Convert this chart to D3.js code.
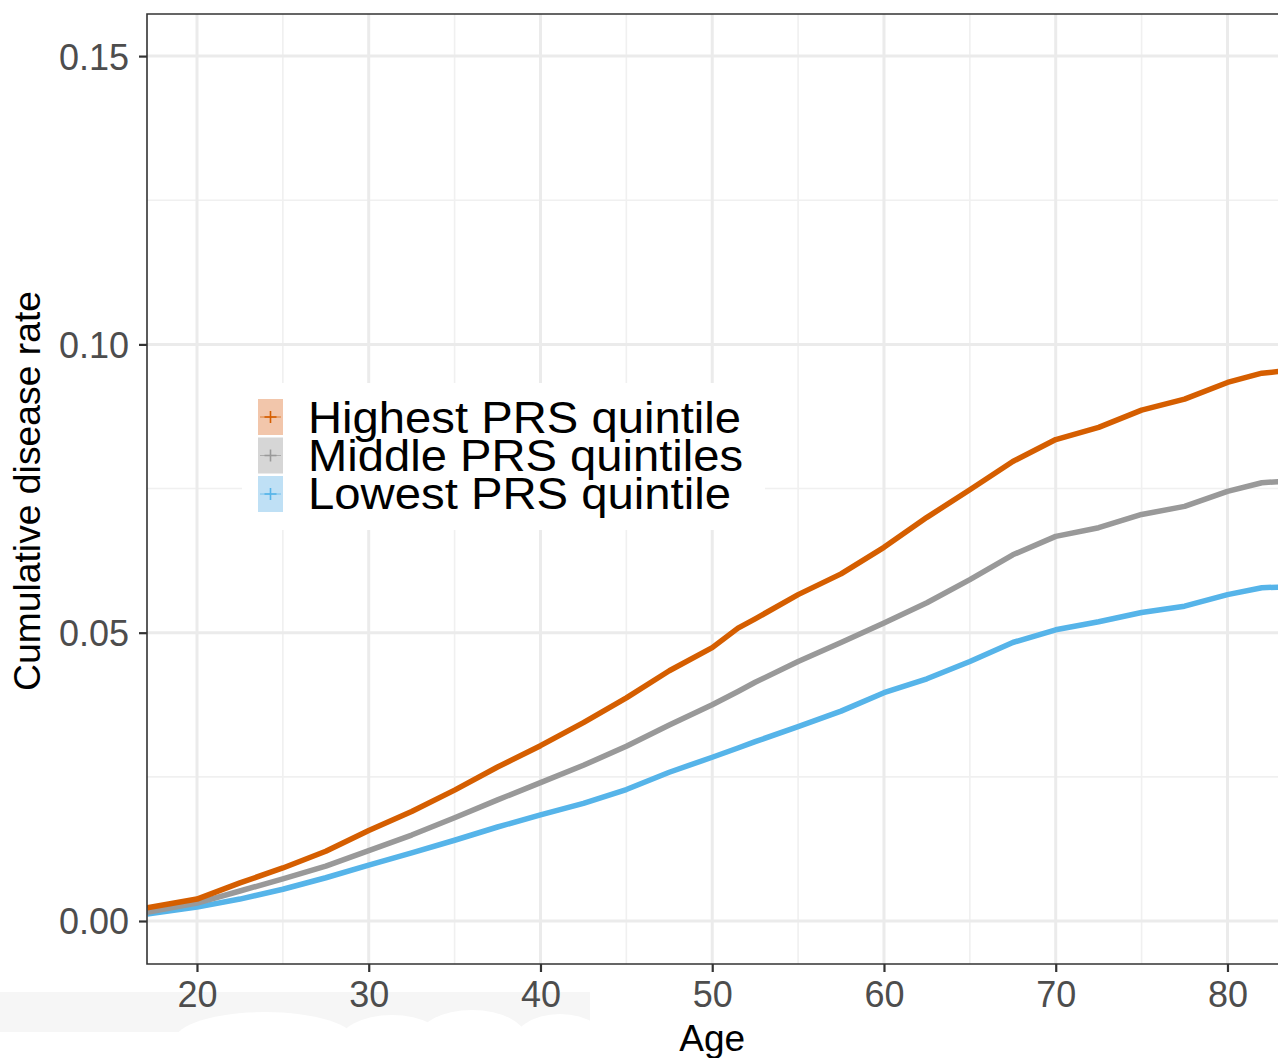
<!DOCTYPE html>
<html>
<head>
<meta charset="utf-8">
<script src="https://cdn.jsdelivr.net/npm/d3@7"></script>
<style>
  html, body { margin: 0; padding: 0; background: #fff; }
  svg { display: block; font-family: "Liberation Sans", Arial, Helvetica, sans-serif; }
</style>
</head>
<body>
<svg id="chart" width="1278" height="1058"></svg>
<script>
// ---- data ----
const ages = [17.1, 20, 22.5, 25, 27.5, 30, 32.5, 35, 37.5, 40, 42.5, 45, 47.5, 50, 51.5, 52.5, 55, 57.5, 60, 62.5, 65, 67.5, 70, 72.5, 75, 77.5, 80, 82, 83];
const highest = [0.0023, 0.0038, 0.0066, 0.0092, 0.0121, 0.0157, 0.0190, 0.0227, 0.0267, 0.0304, 0.0344, 0.0387, 0.0434, 0.0474, 0.0508, 0.0524, 0.0566, 0.0602, 0.0648, 0.0700, 0.0748, 0.0797, 0.0835, 0.0856, 0.0886, 0.0905, 0.0934, 0.0950, 0.0953];
const middle  = [0.0015, 0.0031, 0.0052, 0.0073, 0.0095, 0.0122, 0.0149, 0.0179, 0.0210, 0.0240, 0.0270, 0.0303, 0.0340, 0.0375, 0.0398, 0.0414, 0.0450, 0.0483, 0.0517, 0.0552, 0.0592, 0.0635, 0.0667, 0.0682, 0.0705, 0.0719, 0.0745, 0.0760, 0.0762];
const lowest  = [0.0012, 0.0024, 0.0038, 0.0055, 0.0075, 0.0097, 0.0118, 0.0140, 0.0163, 0.0184, 0.0204, 0.0228, 0.0258, 0.0284, 0.0300, 0.0311, 0.0337, 0.0364, 0.0396, 0.0420, 0.0450, 0.0483, 0.0505, 0.0519, 0.0535, 0.0546, 0.0566, 0.0578, 0.0579];
const seriesNames = ["Highest PRS quintile", "Middle PRS quintiles", "Lowest PRS quintile"];
const xTicks = [20, 30, 40, 50, 60, 70, 80];
const xMinor = [25, 35, 45, 55, 65, 75];
const yTicks = [0, 0.05, 0.10, 0.15];
const yMinor = [0.025, 0.075, 0.125];
const xTitle = "Age";
const yTitle = "Cumulative disease rate";

// ---- layout ----
const svg = d3.select("#chart");
const P = { left: 147, top: 14, right: 1279, bottom: 964 };
const x = d3.scaleLinear().domain([17.09, 83.0]).range([P.left, P.right]);
const y = d3.scaleLinear().domain([-0.00746, 0.1573]).range([P.bottom, P.top]);

const colors = ["#D55E00", "#999999", "#56B4E9"];
const keyFills = ["#f2c6ab", "#d6d6d6", "#bfe0f5"];

svg.append("defs").append("clipPath").attr("id", "panel")
  .append("rect").attr("x", P.left).attr("y", P.top)
  .attr("width", P.right - P.left).attr("height", P.bottom - P.top);

// faint smudge under x labels (as in the reference), drawn first
const smudge = svg.append("g");
smudge.append("rect").attr("x", 0).attr("y", 992).attr("width", 590).attr("height", 40).attr("fill", "#f6f6f6");
[[265, 1040, 90, 28], [392, 1045, 55, 30], [472, 1040, 55, 30], [560, 1048, 50, 34]].forEach(e => {
  smudge.append("ellipse").attr("cx", e[0]).attr("cy", e[1]).attr("rx", e[2]).attr("ry", e[3]).attr("fill", "#fff");
});

// grid
const grid = svg.append("g");
grid.selectAll(".xmin").data(xMinor).join("line")
  .attr("x1", d => x(d)).attr("x2", d => x(d)).attr("y1", P.top).attr("y2", P.bottom)
  .attr("stroke", "#f0f0f0").attr("stroke-width", 1.6);
grid.selectAll(".ymin").data(yMinor).join("line")
  .attr("y1", d => y(d)).attr("y2", d => y(d)).attr("x1", P.left).attr("x2", P.right)
  .attr("stroke", "#f0f0f0").attr("stroke-width", 1.6);
grid.selectAll(".xmaj").data(xTicks).join("line")
  .attr("x1", d => x(d)).attr("x2", d => x(d)).attr("y1", P.top).attr("y2", P.bottom)
  .attr("stroke", "#ebebeb").attr("stroke-width", 3);
grid.selectAll(".ymaj").data(yTicks).join("line")
  .attr("y1", d => y(d)).attr("y2", d => y(d)).attr("x1", P.left).attr("x2", P.right)
  .attr("stroke", "#ebebeb").attr("stroke-width", 3);

// curves
const all = [highest, middle, lowest];
const line = d3.line().x(d => x(d[0])).y(d => y(d[1])).curve(d3.curveLinear);
const lines = svg.append("g").attr("clip-path", "url(#panel)");
[2, 1, 0].forEach(i => {
  lines.append("path")
    .datum(ages.map((a, j) => [a, all[i][j]]))
    .attr("d", line)
    .attr("fill", "none")
    .attr("stroke", colors[i])
    .attr("stroke-width", 5.5)
    .attr("stroke-linejoin", "round");
});

// panel border (top, left, bottom)
svg.append("path")
  .attr("d", `M${P.right},${P.top}H${P.left}V${P.bottom}H${P.right}`)
  .attr("fill", "none").attr("stroke", "#333").attr("stroke-width", 1.6);

// axes
const xAxis = svg.append("g").attr("transform", `translate(0,${P.bottom})`)
  .call(d3.axisBottom(x).tickValues(xTicks).tickSize(8).tickPadding(9).tickFormat(d3.format("d")));
const yAxis = svg.append("g").attr("transform", `translate(${P.left},0)`)
  .call(d3.axisLeft(y).tickValues(yTicks).tickSize(8).tickPadding(10).tickFormat(d3.format(".2f")));
[xAxis, yAxis].forEach(g => {
  g.select(".domain").remove();
  g.selectAll(".tick line").attr("stroke", "#333").attr("stroke-width", 2.2);
  g.selectAll(".tick text").attr("fill", "#4d4d4d").attr("font-size", 36)
    .attr("font-family", "'Liberation Sans', Arial, sans-serif");
});
xAxis.selectAll(".tick text").attr("dy", "0.71em");
yAxis.selectAll(".tick text").attr("dy", "0.36em");

// axis titles
svg.append("text").attr("x", x(50)).attr("y", 1051).attr("text-anchor", "middle")
  .attr("font-size", 37).attr("fill", "#000").text(xTitle);
svg.append("text").attr("transform", `translate(40,${(P.top + P.bottom) / 2 + 2}) rotate(-90)`)
  .attr("text-anchor", "middle").attr("font-size", 37).attr("fill", "#000")
  .attr("textLength", 400).attr("lengthAdjust", "spacingAndGlyphs").text(yTitle);

// legend
const lg = svg.append("g");
lg.append("rect").attr("x", 242).attr("y", 383).attr("width", 523).attr("height", 147).attr("fill", "#fff");
const keyTop = [399, 437.5, 476];
const textLens = [433, 435, 423];
seriesNames.forEach((name, i) => {
  const ky = keyTop[i];
  lg.append("rect").attr("x", 258).attr("y", ky).attr("width", 25).attr("height", 36).attr("fill", keyFills[i]);
  lg.append("line").attr("x1", 260).attr("x2", 281).attr("y1", ky + 18).attr("y2", ky + 18)
    .attr("stroke", colors[i]).attr("stroke-width", 1).attr("stroke-opacity", 0.7);
  lg.append("line").attr("x1", 264.5).attr("x2", 276.5).attr("y1", ky + 18).attr("y2", ky + 18)
    .attr("stroke", colors[i]).attr("stroke-width", 1.6);
  lg.append("line").attr("x1", 270.5).attr("x2", 270.5).attr("y1", ky + 12).attr("y2", ky + 24)
    .attr("stroke", colors[i]).attr("stroke-width", 1.6);
  lg.append("text").attr("x", 308).attr("y", [433, 471, 509][i])
    .attr("font-size", 44.5).attr("fill", "#000")
    .attr("textLength", textLens[i]).attr("lengthAdjust", "spacingAndGlyphs").text(name);
});
</script>
</body>
</html>
